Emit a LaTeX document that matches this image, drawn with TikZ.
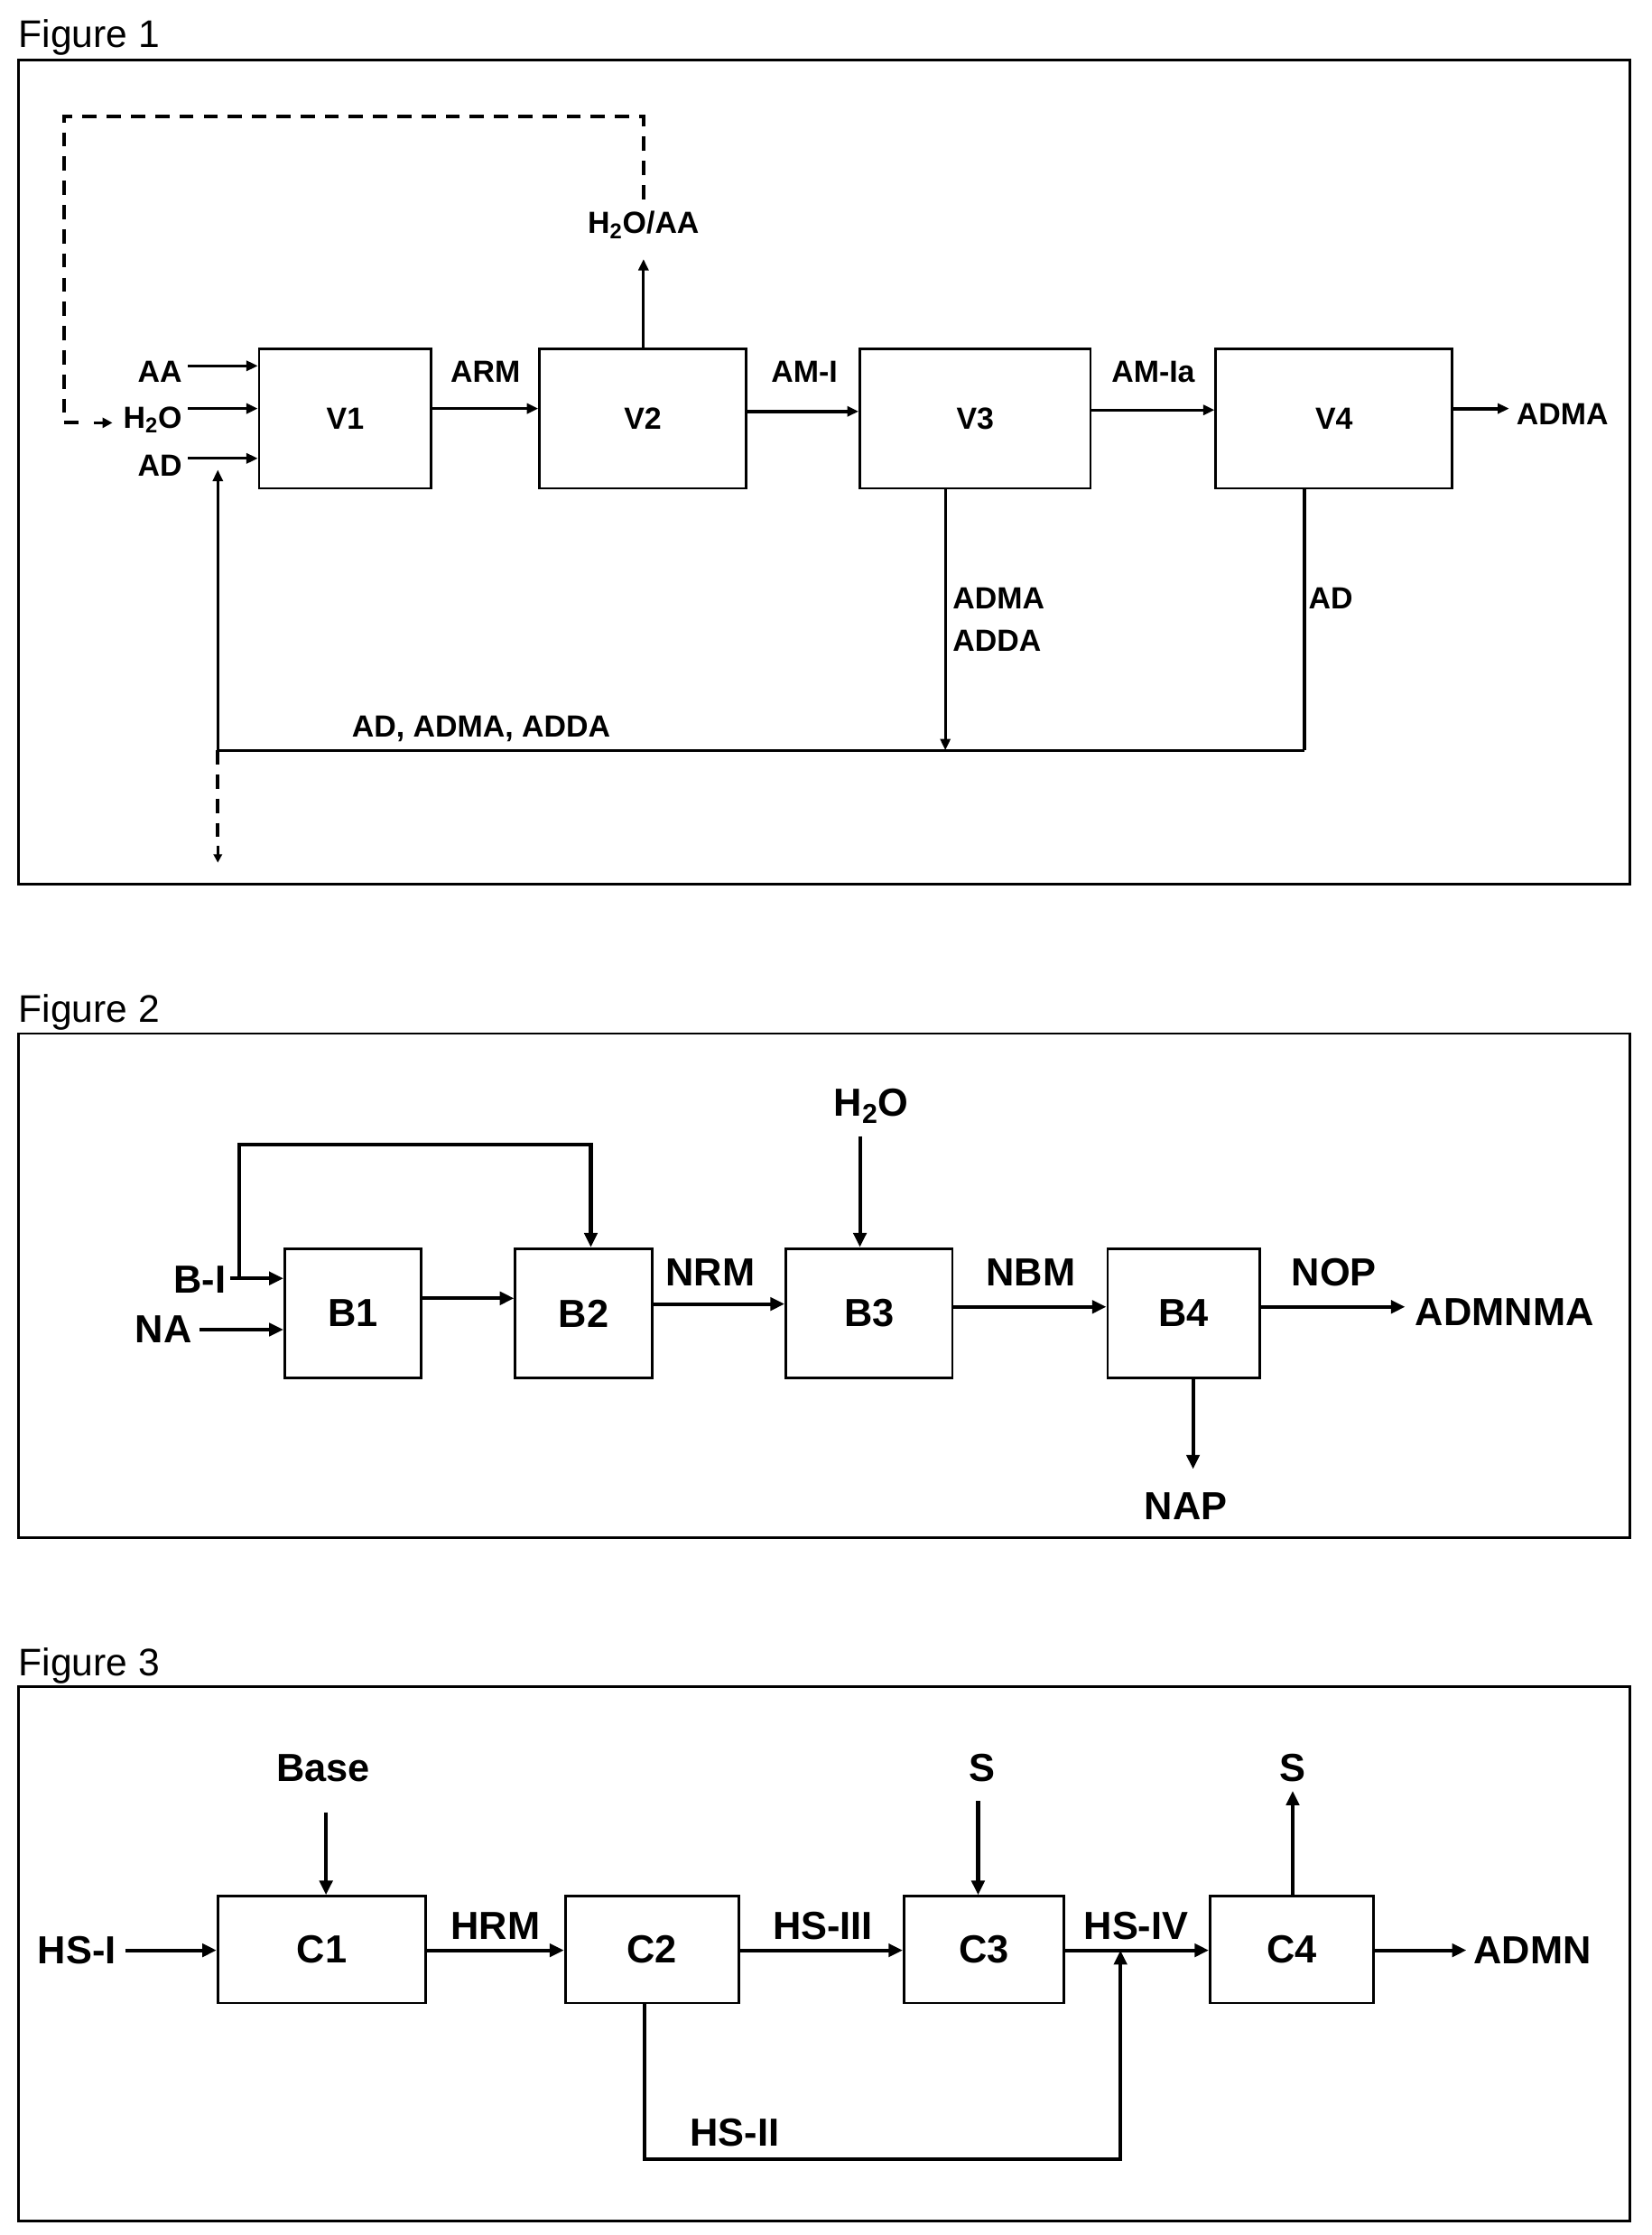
\documentclass[tikz,border=0pt]{standalone}
\usepackage{fontspec}
\setmainfont{Liberation Sans}
\usetikzlibrary{arrows.meta}
\begin{document}
\begin{tikzpicture}[x=1pt,y=-1pt,
  box/.style={draw,line width=1.8pt},
  lab/.style={font=\bfseries\fontsize{21.5}{23}\selectfont,inner sep=1pt},
  labb/.style={font=\bfseries\fontsize{27.5}{29}\selectfont,inner sep=1pt},
  fig/.style={font=\fontsize{27}{29}\selectfont,anchor=base west,inner sep=0pt},
  ar/.style={-{Triangle[length=8pt,width=7pt]},line width=2pt},
  arb/.style={-{Triangle[length=10pt,width=9pt]},line width=2.6pt},
  dsh/.style={line width=2.6pt,dash pattern=on 10pt off 7pt}]
\useasboundingbox (0,0) rectangle (1160,1570);
% ---------- Figure 1
\node[fig] (f1) at (13,33) {Figure 1};
\draw[line width=1.8pt] (13,42) rectangle (1145,621);
\node[box,minimum width=121pt,minimum height=98pt] (v1) at (242.5,294) {};
\node[lab] at (v1) {V1};
\node[box,minimum width=145pt,minimum height=98pt] (v2) at (451.5,294) {};
\node[lab] at (v2) {V2};
\node[box,minimum width=162pt,minimum height=98pt] (v3) at (685,294) {};
\node[lab] at (v3) {V3};
\node[box,minimum width=166pt,minimum height=98pt] (v4) at (937,294) {};
\node[lab] at (v4) {V4};
\node[lab,anchor=east] (aa) at (129,261) {AA};
\node[lab,anchor=east] (h2o) at (129,295) {H\textsubscript{2}O};
\node[lab,anchor=east] (ad) at (129,327) {AD};
\coordinate (aa1) at (132,257); \coordinate (h1) at (132,287); \coordinate (ad1) at (132,322);
\draw[ar] (aa1) -- (aa1 -| v1.west);
\draw[ar] (h1) -- (h1 -| v1.west);
\draw[ar] (ad1) -- (ad1 -| v1.west);
\draw[ar] (v1.east |- 0,287) -- (v2.west |- 0,287);
\node[lab] at (341,261) {ARM};
\draw[ar,line width=2.6pt] (v2.east |- 0,289) -- (v3.west |- 0,289);
\node[lab] at (565,261) {AM-I};
\draw[ar] (v3.east |- 0,288) -- (v4.west |- 0,288);
\node[lab] at (810,261) {AM-Ia};
\coordinate (adm) at (1060,287);
\draw[ar,line width=2.6pt] (v4.east |- adm) -- (adm);
\node[lab,anchor=west] at (1064,291) {ADMA};
\node[lab] (h2oaa) at (452,158) {H\textsubscript{2}O/AA};
\draw[ar] (452,245) -- (452,182);
\coordinate (dtop) at (452,140);
\coordinate (dend) at (79,297);
\draw[dsh] (dtop) -- (452,82) -- (45,82) -- (45,297) -- (62,297);
\draw[-{Triangle[length=7pt,width=7pt]},line width=2pt] (66,297) -- (dend);
\coordinate (j3) at (664,527);
\coordinate (j4) at (916,527);
\coordinate (j1) at (153,527);
\draw[ar] (664,343) -- (j3);
\node[lab,anchor=west] at (668,420) {ADMA};
\node[lab,anchor=west] at (668,450) {ADDA};
\draw[line width=2.6pt] (916,343) -- (j4);
\draw[line width=2pt] (j4) -- (j1);
\draw[ar] (j1) -- (153,330);
\node[lab,anchor=west] at (918,420) {AD};
\node[lab,anchor=west] at (246,512) {AD, ADMA, ADDA};
\draw[dsh] (j1) -- (153,592);
\draw[-{Triangle[length=6pt,width=6pt]},line width=2pt] (153,594) -- (153,606);
% ---------- Figure 2
\node[fig] (f2) at (13,718) {Figure 2};
\draw[line width=1.8pt] (13,726) rectangle (1145,1080);
\node[box,minimum width=96pt,minimum height=91pt] (b1) at (248,922.5) {};
\node[labb] at (b1) {B1};
\node[box,minimum width=96pt,minimum height=91pt] (b2) at (410,922.5) {};
\node[labb] at (b2) {B2};
\node[box,minimum width=117pt,minimum height=91pt] (b3) at (610.5,922.5) {};
\node[labb] at (b3) {B3};
\node[box,minimum width=107pt,minimum height=91pt] (b4) at (831.5,922.5) {};
\node[labb] at (b4) {B4};
\node[labb,anchor=east] (bi) at (160,899) {B-I};
\node[labb,anchor=east] (na) at (136,934) {NA};
\draw[arb] (162,898) -- (b1.west |- 0,898);
\draw[arb] (140,934) -- (b1.west |- 0,934);
\draw[arb] (168,898) -- (168,804) -- (415,804) -- (415,0 |- b2.north);
\draw[arb] (b1.east |- 0,912) -- (b2.west |- 0,912);
\draw[arb] (b2.east |- 0,916) -- (b3.west |- 0,916);
\node[labb] at (499,894) {NRM};
\node[labb] (h2) at (612,777) {H\textsubscript{2}O};
\draw[arb] (604,798) -- (604,0 |- b3.north);
\draw[arb] (b3.east |- 0,918) -- (b4.west |- 0,918);
\node[labb] at (724,894) {NBM};
\coordinate (nop) at (987,918);
\draw[arb] (b4.east |- nop) -- (nop);
\node[labb] at (937,894) {NOP};
\node[labb,anchor=west] at (993,922) {ADMNMA};
\coordinate (nap) at (838,1032);
\draw[arb] (838,968) -- (nap);
\node[labb] at (833,1058) {NAP};
% ---------- Figure 3
\node[fig] (f3) at (13,1177) {Figure 3};
\draw[line width=1.8pt] (13,1185) rectangle (1145,1560);
\node[box,minimum width=146pt,minimum height=75pt] (c1) at (226,1369.5) {};
\node[labb] at (c1) {C1};
\node[box,minimum width=122pt,minimum height=75pt] (c2) at (458,1369.5) {};
\node[labb] at (c2) {C2};
\node[box,minimum width=112pt,minimum height=75pt] (c3) at (691,1369.5) {};
\node[labb] at (c3) {C3};
\node[box,minimum width=115pt,minimum height=75pt] (c4) at (907.5,1369.5) {};
\node[labb] at (c4) {C4};
\node[labb] (hsi) at (54,1370) {HS-I};
\draw[arb] (88,1370) -- (c1.west |- 0,1370);
\node[labb] (base) at (227,1242) {Base};
\draw[arb] (229,1273) -- (229,0 |- c1.north);
\draw[arb] (c1.east |- 0,1370) -- (c2.west |- 0,1370);
\node[labb] at (348,1353) {HRM};
\draw[arb] (c2.east |- 0,1370) -- (c3.west |- 0,1370);
\node[labb] at (578,1353) {HS-III};
\coordinate (m) at (787,1370);
\draw[arb] (c3.east |- m) -- (c4.west |- m);
\node[labb] at (798,1353) {HS-IV};
\node[labb] (s1) at (690,1242) {S};
\draw[arb] (687,1265) -- (687,0 |- c3.north);
\node[labb] (s2) at (908,1242) {S};
\draw[arb] (908,1332) -- (908,1258);
\coordinate (admn) at (1030,1370);
\draw[arb] (c4.east |- admn) -- (admn);
\node[labb,anchor=west] at (1034,1370) {ADMN};
\draw[arb] (453,1407) -- (453,1517) -- (787,1517) -- (m);
\node[labb] at (516,1498) {HS-II};
\end{tikzpicture}
\end{document}
